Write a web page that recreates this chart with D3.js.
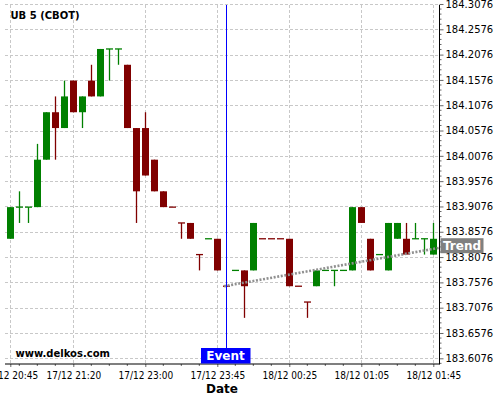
<!DOCTYPE html>
<html>
<head>
<meta charset="utf-8">
<script src="https://cdn.jsdelivr.net/npm/d3@7/dist/d3.min.js"></script>
<style>
  html, body { margin: 0; padding: 0; background: #fff; }
  svg { display: block; }
</style>
</head>
<body>
<svg id="chart" width="500" height="400"></svg>
<script>
// ---- data ----
const title = "UB 5 (CBOT)";
// OHLC per candle (index-based)
const opens  = [183.84375,183.90625,183.90625,183.90625,184.0,184.09375,184.0625,184.15625,184.09375,184.15625,184.125,184.21875,184.21875,184.1875,184.0625,184.0625,184.0,183.9375,183.90625,183.875,183.875,183.8125,183.84375,183.84375,183.75,183.78125,183.78125,183.78125,183.84375,183.84375,183.84375,183.84375,183.75,183.71875,183.75,183.78125,183.78125,183.78125,183.78125,183.90625,183.84375,183.8125,183.78125,183.84375,183.84375,183.84375,183.84375,183.8125];
const highs  = [183.90625,183.9375,183.90625,184.03125,184.09375,184.125,184.15625,184.15625,184.125,184.1875,184.21875,184.21875,184.21875,184.1875,184.0625,184.09375,184.0,183.9375,183.90625,183.875,183.875,183.8125,183.84375,183.84375,183.75,183.78125,183.78125,183.875,183.84375,183.84375,183.84375,183.84375,183.75,183.71875,183.78125,183.78125,183.78125,183.78125,183.90625,183.90625,183.84375,183.8125,183.875,183.875,183.875,183.875,183.84375,183.875];
const lows   = [183.84375,183.875,183.875,183.90625,184.0,184.0,184.0625,184.09375,184.0625,184.125,184.125,184.15625,184.1875,184.0625,183.875,183.96875,183.9375,183.90625,183.90625,183.84375,183.84375,183.78125,183.84375,183.78125,183.75,183.78125,183.6875,183.78125,183.84375,183.84375,183.84375,183.75,183.75,183.6875,183.75,183.78125,183.75,183.78125,183.78125,183.875,183.78125,183.8125,183.78125,183.84375,183.8125,183.84375,183.8125,183.8125];
const closes = [183.90625,183.90625,183.90625,184.0,184.09375,184.0625,184.125,184.09375,184.125,184.125,184.21875,184.21875,184.21875,184.0625,183.9375,183.96875,183.9375,183.90625,183.90625,183.875,183.84375,183.8125,183.84375,183.78125,183.75,183.78125,183.75,183.875,183.84375,183.84375,183.84375,183.75,183.75,183.71875,183.78125,183.78125,183.78125,183.78125,183.90625,183.875,183.78125,183.8125,183.875,183.875,183.8125,183.84375,183.84375,183.84375];
// colour flag per candle: 1 = up (green), 0 = down (red)
const upFlags = [1,1,1,1,1,0,1,0,1,0,1,1,1,0,0,0,0,0,0,0,0,0,1,0,0,1,0,1,0,0,0,0,0,0,1,1,1,1,1,0,0,1,1,1,0,1,1,1];

const xTickIdx    = [0, 7, 15, 23, 31, 39, 47];
const xTickLabels = ["17/12 20:45","17/12 21:20","17/12 23:00","17/12 23:45","18/12 00:25","18/12 01:05","18/12 01:45"];
const yTicks = [183.6076,183.6576,183.7076,183.7576,183.8076,183.8576,183.9076,183.9576,184.0076,184.0576,184.1076,184.1576,184.2076,184.2576,184.3076];

const eventIdx = 24;
const trendIdx    = [23.75, 47.75];
const trendPrices = [183.7500, 183.8261];

// ---- layout ----
const plotL = 5, plotR = 439.5, plotT = 5, plotB = 364;
const svg = d3.select("#chart");

const x = d3.scaleLinear().domain([0, 47]).range([10.3, 433.3]);
const y = d3.scaleLinear().domain([183.6076, 184.2576]).range([358.3, 29.3]);

const green = "#008000", red = "#800000";
const gridColor = "#c8c8c8";
const tickFont = "'DejaVu Sans Condensed', 'DejaVu Sans', sans-serif";

// grid
const grid = svg.append("g");
grid.selectAll("line.h").data(yTicks).enter().append("line")
  .attr("x1", plotL).attr("x2", plotR)
  .attr("y1", d => Math.round(y(d)) + 0.5).attr("y2", d => Math.round(y(d)) + 0.5)
  .attr("stroke", gridColor).attr("stroke-width", 1).attr("stroke-dasharray", "3,2");
grid.selectAll("line.v").data(xTickIdx).enter().append("line")
  .attr("x1", d => Math.round(x(d)) + 0.5).attr("x2", d => Math.round(x(d)) + 0.5)
  .attr("y1", plotT).attr("y2", plotB)
  .attr("stroke", gridColor).attr("stroke-width", 1).attr("stroke-dasharray", "3,2");

// candles
const candles = d3.range(opens.length).map(i => ({
  i, o: opens[i], h: highs[i], l: lows[i], c: closes[i], up: upFlags[i] === 1
}));
const cg = svg.append("g");
const bw = 7;
candles.forEach(d => {
  const cx = Math.round(x(d.i)) + 0.5;
  const col = d.up ? green : red;
  if (y(d.l) - y(d.h) > 0.5) {
    cg.append("line").attr("x1", cx).attr("x2", cx)
      .attr("y1", y(d.h)).attr("y2", y(d.l))
      .attr("stroke", col).attr("stroke-width", 1.3);
  }
  const top = y(Math.max(d.o, d.c)), bot = y(Math.min(d.o, d.c));
  if (bot - top < 1) {
    cg.append("line").attr("x1", cx - bw / 2).attr("x2", cx + bw / 2)
      .attr("y1", top).attr("y2", top)
      .attr("stroke", col).attr("stroke-width", 1.3);
  } else {
    cg.append("rect").attr("x", cx - bw / 2).attr("width", bw)
      .attr("y", top).attr("height", bot - top).attr("fill", col);
  }
});

// trend line
svg.append("line")
  .attr("x1", x(trendIdx[0])).attr("y1", y(trendPrices[0]))
  .attr("x2", x(trendIdx[1])).attr("y2", y(trendPrices[1]))
  .attr("stroke", "#909090").attr("stroke-width", 2.6).attr("stroke-dasharray", "2,1.6");

// event line
const ex = Math.round(x(eventIdx)) + 0.5;
svg.append("line").attr("x1", ex).attr("x2", ex).attr("y1", plotT).attr("y2", 349)
  .attr("stroke", "#0000ff").attr("stroke-width", 1);

// axes
const yAxisG = svg.append("g").attr("transform", `translate(${plotR},0)`);
const yAx = d3.axisRight(y).tickValues(yTicks).tickFormat(d => d.toFixed(4)).tickSize(4).tickPadding(2);
yAxisG.call(yAx);
const yMinor = [];
yTicks.forEach(t => { for (let k = 1; k < 5; k++) yMinor.push(t - 0.01 * k); });
yAxisG.selectAll("line.minor").data(yMinor.filter(v => y(v) <= plotB)).enter().append("line")
  .attr("x1", 0).attr("x2", 2).attr("y1", d => y(d)).attr("y2", d => y(d))
  .attr("stroke", "#000").attr("stroke-width", 0.6);
yAxisG.select(".domain").remove();
yAxisG.append("line").attr("x1", 0).attr("x2", 0).attr("y1", plotT).attr("y2", plotB + 0.5)
  .attr("stroke", "#000").attr("stroke-width", 1);
yAxisG.selectAll(".tick line").attr("stroke-width", 0.6);
yAxisG.selectAll("text").attr("font-family", "DejaVu Sans").attr("font-size", "10px").attr("fill", "#000");

const xAxisG = svg.append("g").attr("transform", `translate(0,${plotB})`);
const xAx = d3.axisBottom(x).tickValues(xTickIdx).tickFormat((d, k) => xTickLabels[k]).tickSize(3).tickPadding(5);
xAxisG.call(xAx);
xAxisG.select(".domain").remove();
xAxisG.append("line").attr("x1", plotL).attr("x2", plotR).attr("y1", 0).attr("y2", 0)
  .attr("stroke", "#000").attr("stroke-width", 1.2);
const xMinor = d3.range(1, 48, 2).filter(i => xTickIdx.indexOf(i) < 0);
xAxisG.selectAll("line.minor").data(xMinor).enter().append("line")
  .attr("x1", d => x(d)).attr("x2", d => x(d)).attr("y1", 0).attr("y2", 2)
  .attr("stroke", "#000").attr("stroke-width", 0.6);
xAxisG.selectAll(".tick line").attr("stroke-width", 0.6);
xAxisG.selectAll("text").attr("font-family", tickFont).attr("font-size", "10px").attr("fill", "#000");

// axis title
svg.append("text").attr("x", 222).attr("y", 393).attr("text-anchor", "middle")
  .attr("font-family", "DejaVu Sans").attr("font-weight", "bold").attr("font-size", "12px")
  .text("Date");

// chart title
svg.append("text").attr("x", 10.5).attr("y", 19.3)
  .attr("font-family", "DejaVu Sans").attr("font-weight", "bold").attr("font-size", "10px")
  .text(title);

// watermark
svg.append("text").attr("x", 15.5).attr("y", 356.7)
  .attr("font-family", "DejaVu Sans").attr("font-weight", "bold").attr("font-size", "10px")
  .text("www.delkos.com");

// event label
svg.append("rect").attr("x", 201).attr("y", 348).attr("width", 49.5).attr("height", 15.5).attr("fill", "#0000ff");
svg.append("text").attr("x", 225.5).attr("y", 360).attr("text-anchor", "middle")
  .attr("font-family", "DejaVu Sans").attr("font-weight", "bold").attr("font-size", "12px")
  .attr("fill", "#fff").text("Event");

// trend label
const ty = y(trendPrices[1]);
svg.append("rect").attr("x", 440.5).attr("y", ty - 9.5).attr("width", 43).attr("height", 15).attr("fill", "#808080");
svg.append("text").attr("x", 462).attr("y", ty + 2.5).attr("text-anchor", "middle")
  .attr("font-family", "DejaVu Sans").attr("font-weight", "bold").attr("font-size", "12px")
  .attr("fill", "#fff").text("Trend");
</script>
</body>
</html>
